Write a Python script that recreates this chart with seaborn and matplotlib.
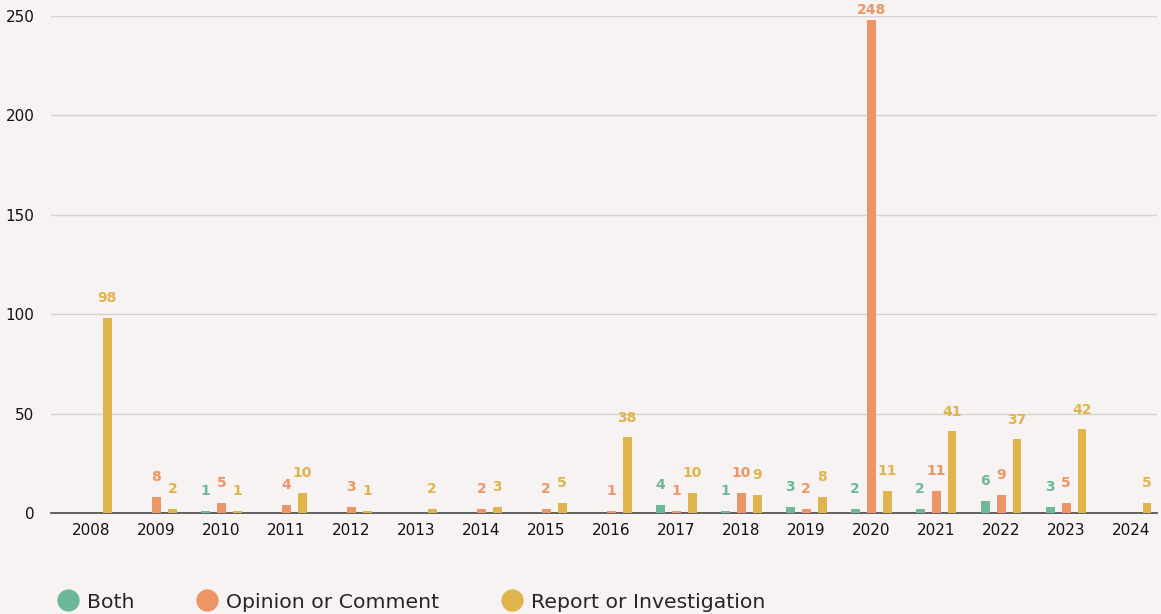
import numpy as np
import pandas as pd
import seaborn as sns
import matplotlib.pyplot as plt

years = [str(y) for y in range(2008, 2025)]
series_names = ["Both", "Opinion or Comment", "Report or Investigation"]
both = [0, 0, 1, 0, 0, 0, 0, 0, 0, 4, 1, 3, 2, 2, 6, 3, 0]
opinion = [0, 8, 5, 4, 3, 0, 2, 2, 1, 1, 10, 2, 248, 11, 9, 5, 0]
report = [98, 2, 1, 10, 1, 2, 3, 5, 38, 10, 9, 8, 11, 41, 37, 42, 5]
y_ticks = [0, 50, 100, 150, 200, 250]

colors = ["#6db89b", "#ec9566", "#dfb44d"]
bg = "#f7f3f2"

rows = []
for name, vals in zip(series_names, [both, opinion, report]):
    for yr, v in zip(years, vals):
        if v > 0:
            rows.append({"year": yr, "type": name, "count": v})
df = pd.DataFrame(rows)

sns.set_theme(style="white")
plt.rcParams["font.family"] = ["DejaVu Sans"]

fig = plt.figure(figsize=(11.61, 6.14), dpi=100, facecolor=bg)
ax = fig.add_axes([0.044, 0.1645, 0.9526, 0.8095])
ax.set_facecolor(bg)

sns.barplot(data=df, x="year", y="count", hue="type", order=years,
            hue_order=series_names, palette=colors, width=0.735, gap=0.44,
            dodge=True, errorbar=None, saturation=1, linewidth=0,
            ax=ax, legend=True, zorder=3)

# value labels above each bar
for cont, col in zip(ax.containers, colors):
    for bar in cont:
        h = bar.get_height()
        if np.isnan(h) or h <= 0:
            continue
        cx = bar.get_x() + bar.get_width() / 2
        ax.text(cx, min(h + 10, 253), f"{int(h)}", ha="center", va="center",
                color=col, fontsize=10, fontweight="bold", clip_on=False)

ax.set_ylim(0, 250)
ax.set_xlim(-0.62, len(years) - 0.6)
ax.set_yticks(y_ticks)
ax.set_yticklabels([str(t) for t in y_ticks])
ax.grid(axis="y", color="#d6d2d1", linewidth=1)
ax.set_axisbelow(True)
for s in ["top", "right", "left"]:
    ax.spines[s].set_visible(False)
ax.spines["bottom"].set_color("#555555")
ax.spines["bottom"].set_linewidth(1.3)
ax.spines["bottom"].set_zorder(2)
ax.tick_params(axis="y", length=0, pad=12, labelsize=11, labelcolor="#111111")
ax.tick_params(axis="x", length=0, pad=7, labelsize=11, labelcolor="#111111")
ax.set_xlabel("")
ax.set_ylabel("")

handles = [plt.Line2D([0], [0], marker="o", linestyle="", markersize=15,
                      markerfacecolor=c, markeredgecolor=c) for c in colors]
ax.get_legend().remove()
fig.legend(handles, series_names, loc="center left", bbox_to_anchor=(0.0502, 0.0195),
           ncol=3, frameon=False, fontsize=14.7, handletextpad=0.45,
           columnspacing=3.1, handlelength=0.95, borderpad=0, borderaxespad=0)

fig.savefig("out.png", dpi=100, facecolor=bg)
